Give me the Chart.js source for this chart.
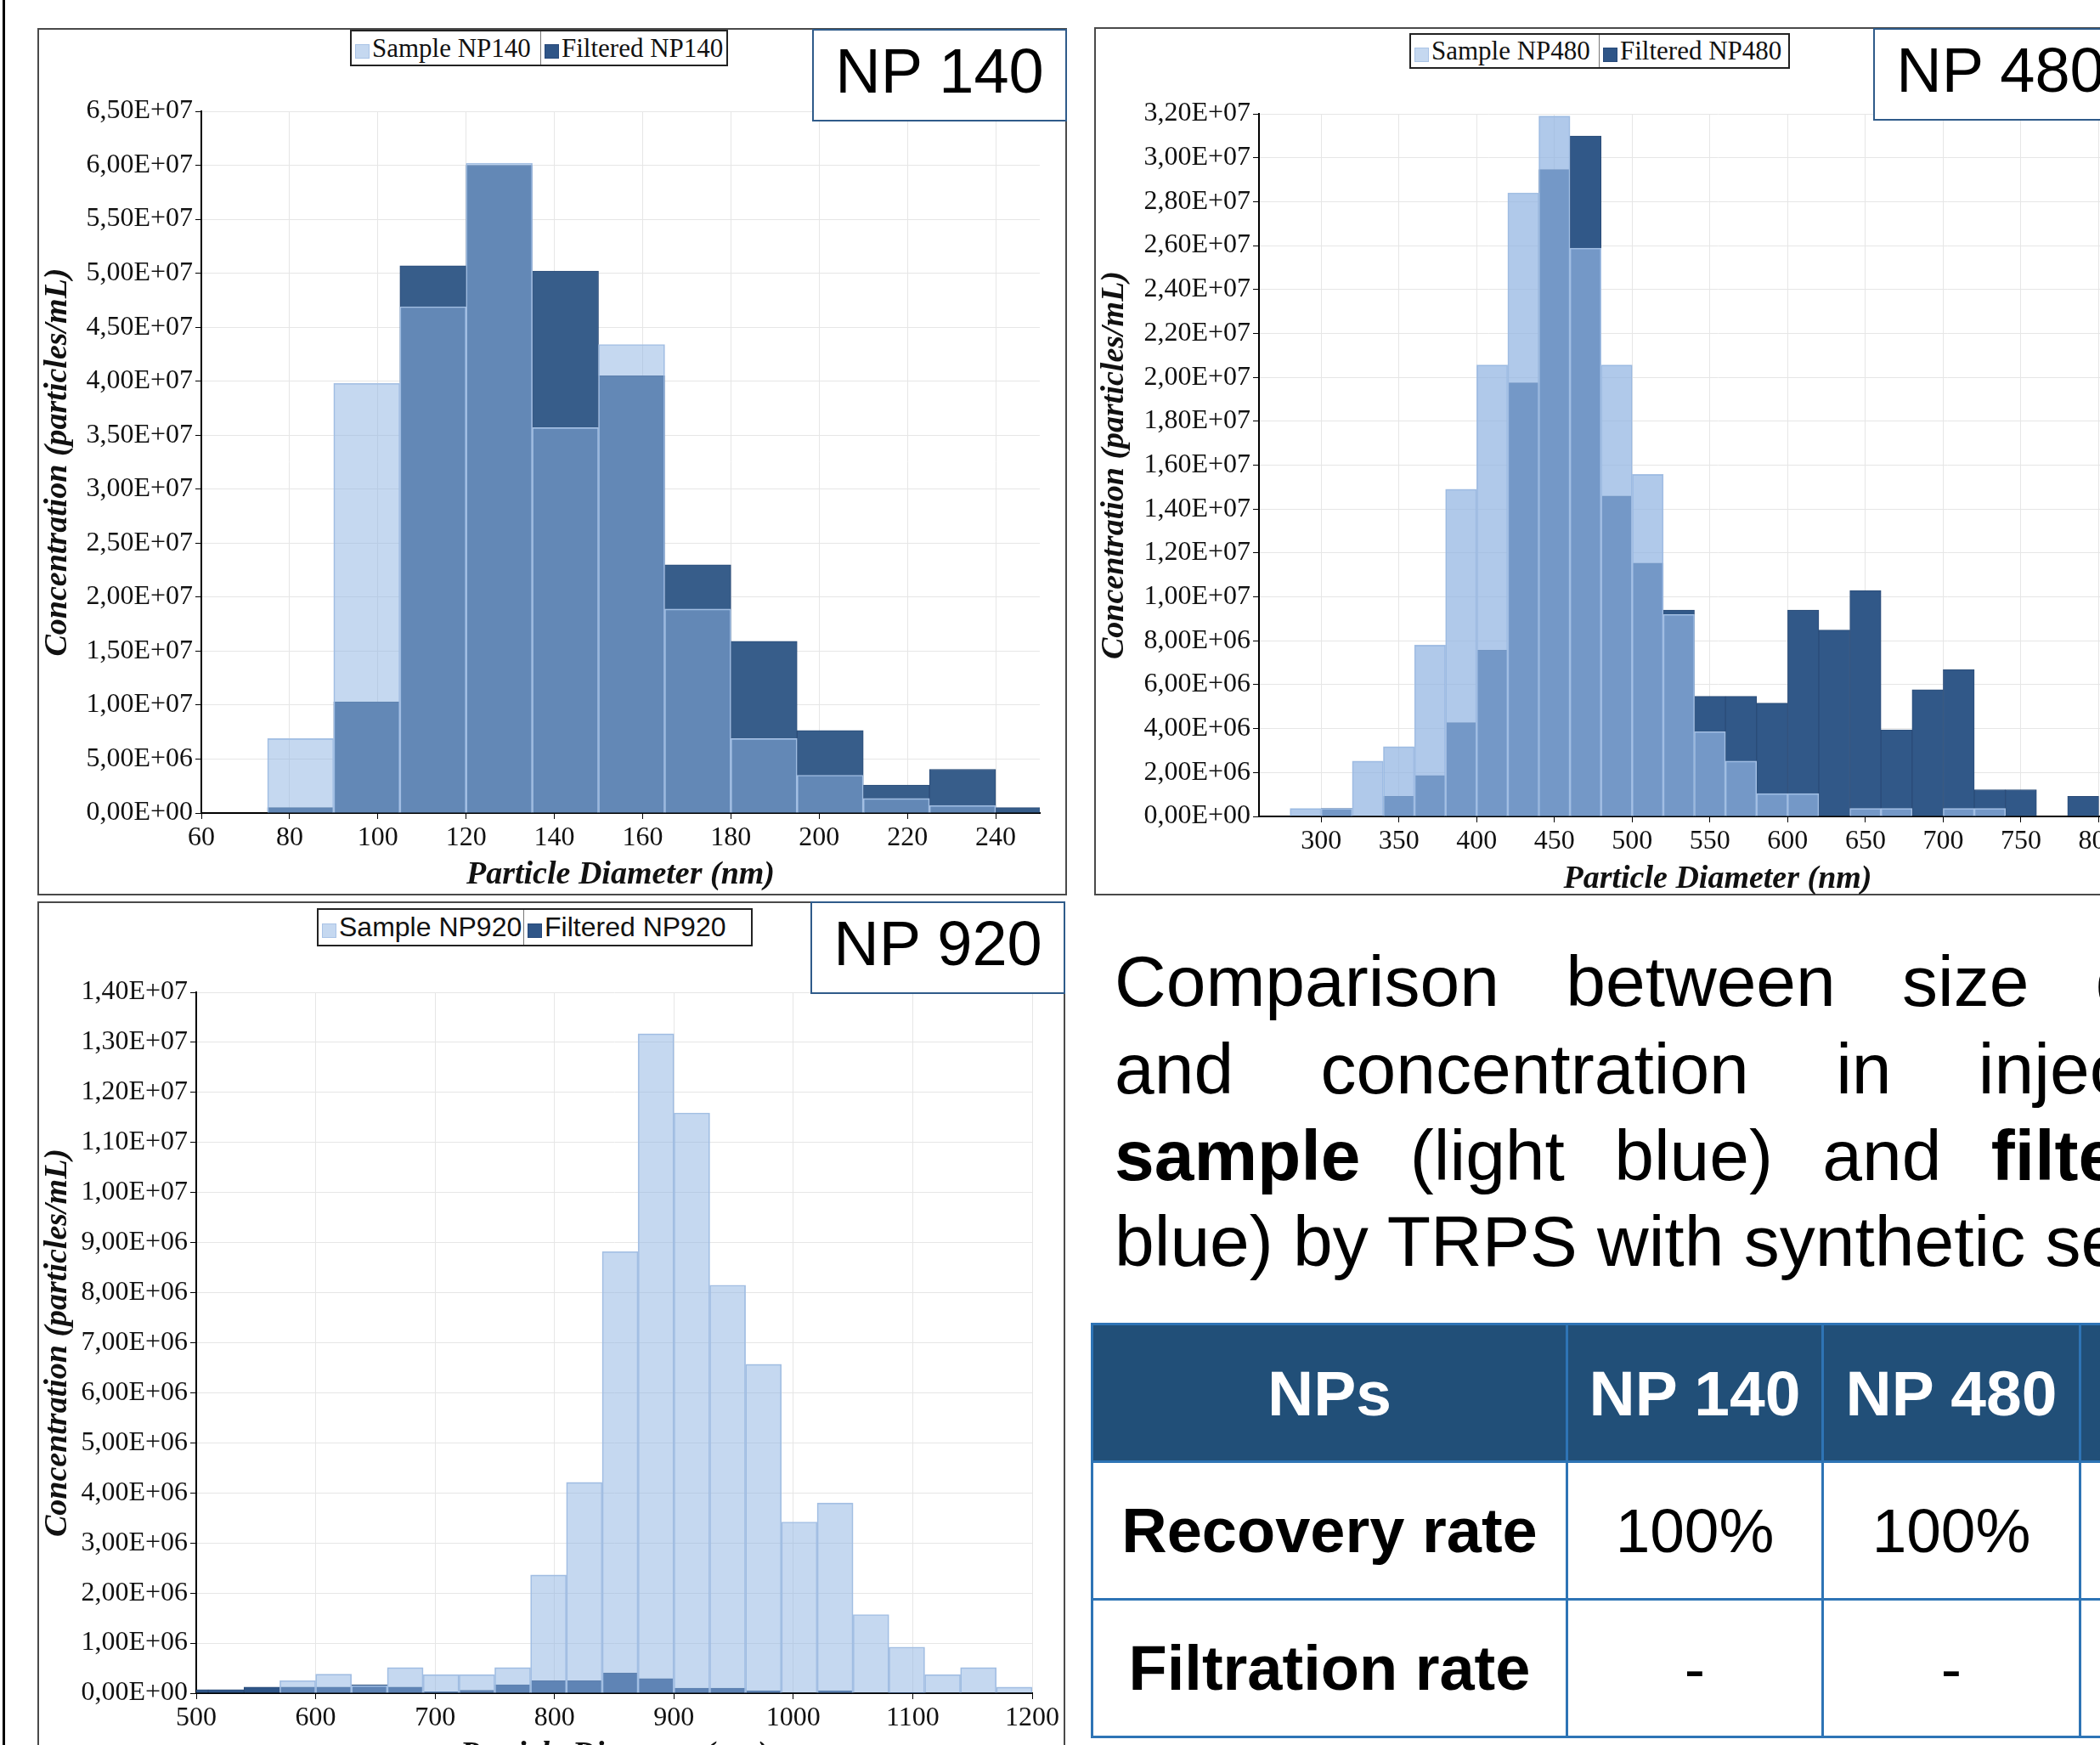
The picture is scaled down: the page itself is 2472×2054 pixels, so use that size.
<!DOCTYPE html>
<html>
<head>
<meta charset="utf-8">
<script src="https://cdn.jsdelivr.net/npm/chart.js@4.4.1/dist/chart.umd.min.js"></script>
<style>
html, body { margin: 0; padding: 0; width: 2472px; height: 2054px; overflow: hidden; background: #fff; }
.abs { position: absolute; }
.box { position: absolute; border: 2px solid #4a4a4a; box-sizing: border-box; }
canvas { position: absolute; }
.legend { position: absolute; border: 2px solid #222; box-sizing: border-box; display: flex; background: #fff; color: #111; font-size: 31px; }
.legend .item { display: flex; align-items: center; box-sizing: border-box; padding-left: 4px; white-space: nowrap; height: 100%; }
.legend .sep { border-left: 1px solid #777; }
.serif { font-family: "Liberation Serif", "Times New Roman", serif; }
.sans { font-family: "Liberation Sans", Arial, sans-serif; }
.mk { display: inline-block; width: 17px; height: 17px; margin-right: 3px; margin-top: 8px; box-sizing: border-box; }
.mk.light { background: #c5d8f0; border: 1px solid #a9c3e6; }
.mk.dark { background: #2f5587; border: 1px solid #27497a; }
.np { position: absolute; width: 300px; height: 109px; box-sizing: border-box; border: 2px solid #2f5b8a; background: #fff;
      font-family: "Liberation Sans", Arial, sans-serif; font-size: 74px; line-height: 74px; text-align: center; color: #000; }
.np span { position: absolute; left: 0; right: 0; top: 11px; }
.line { position: absolute; left: 1312px; font-family: "Liberation Sans", Arial, sans-serif; font-size: 84px; line-height: 84px; white-space: nowrap; color: #000; }
table { position: absolute; left: 1284px; top: 1557px; border-collapse: collapse; table-layout: fixed; width: 1466px;
        font-family: "Liberation Sans", Arial, sans-serif; }
td, th { border: 3px solid #2e74b5; text-align: center; vertical-align: middle; padding: 0; white-space: nowrap; }
th { background: #214f78; color: #fff; font-size: 75px; font-weight: bold; }
td { font-size: 73px; color: #000; }
td.b { font-weight: bold; font-size: 74px; }
</style>
</head>
<body>
<div class="abs" style="left:3px;top:0;width:3px;height:2054px;background:#000"></div>

<!-- NP 140 -->
<div class="box" style="left:44px;top:33px;width:1212px;height:1021px"></div>
<canvas id="c140" width="1210" height="1019" style="left:45px;top:34px"></canvas>
<div class="legend serif" style="left:412px;top:35px;width:445px;height:43px">
  <div class="item" style="width:223px"><span class="mk light"></span>Sample NP140</div>
  <div class="item sep" style="width:220px"><span class="mk dark"></span>Filtered NP140</div>
</div>
<div class="np" style="left:956px;top:34px"><span>NP 140</span></div>

<!-- NP 480 -->
<div class="box" style="left:1288px;top:32px;width:1320px;height:1022px"></div>
<canvas id="c480" width="1304" height="1020" style="left:1289px;top:33px"></canvas>
<div class="legend serif" style="left:1659px;top:39px;width:448px;height:42px">
  <div class="item" style="width:222px"><span class="mk light"></span>Sample NP480</div>
  <div class="item sep" style="width:224px"><span class="mk dark"></span>Filtered NP480</div>
</div>
<div class="np" style="left:2205px;top:33px"><span>NP 480</span></div>

<!-- NP 920 -->
<div class="box" style="left:44px;top:1061px;width:1210px;height:1100px"></div>
<canvas id="c920" width="1208" height="1027" style="left:45px;top:1062px"></canvas>
<div class="legend sans" style="left:373px;top:1069px;width:513px;height:45px;font-size:32px">
  <div class="item" style="width:242px"><span class="mk light"></span>Sample NP920</div>
  <div class="item sep" style="width:269px"><span class="mk dark"></span>Filtered NP920</div>
</div>
<div class="np" style="left:954px;top:1061px"><span>NP 920</span></div>

<!-- text -->
<div class="line" style="top:1113px;word-spacing:55px">Comparison between size distribution</div>
<div class="line" style="top:1216px;word-spacing:79px">and concentration in injected</div>
<div class="line" style="top:1318px;word-spacing:35px"><b>sample</b> (light blue) and <b>filtered</b> (dark</div>
<div class="line" style="top:1419px">blue) by TRPS with synthetic serum.</div>

<table>
  <colgroup><col style="width:559px"><col style="width:301px"><col style="width:303px"><col style="width:303px"></colgroup>
  <tr style="height:162px"><th>NPs</th><th>NP 140</th><th>NP 480</th><th>NP 920</th></tr>
  <tr style="height:162px"><td class="b">Recovery rate</td><td>100%</td><td>100%</td><td></td></tr>
  <tr style="height:162px"><td class="b">Filtration rate</td><td>-</td><td>-</td><td></td></tr>
</table>

<script>
// NP 140 - borde inferior de cada intervalo (nm), intervalos de 15 nm
var bins140 = [75, 90, 105, 120, 135, 150, 165, 180, 195, 210, 225, 240];
var sample140 = [6.9e6, 3.98e7, 4.69e7, 6.02e7, 3.57e7, 4.34e7, 1.89e7, 6.9e6, 3.5e6, 1.35e6, 0.7e6, 0];
var filtered140 = [0.5e6, 1.03e7, 5.07e7, 6.0e7, 5.02e7, 4.05e7, 2.3e7, 1.59e7, 7.65e6, 2.6e6, 4.05e6, 0.5e6];

// NP 480 - intervalos de 20 nm
var bins480 = [280, 300, 320, 340, 360, 380, 400, 420, 440, 460, 480, 500, 520,
               540, 560, 580, 600, 620, 640, 660, 680, 700, 720, 740, 760, 780];
var sample480 = [0.36e6, 0.36e6, 2.52e6, 3.18e6, 7.8e6, 1.49e7, 2.056e7, 2.84e7, 3.19e7, 2.588e7, 2.056e7, 1.558e7, 9.2e6,
                 3.86e6, 2.52e6, 1.04e6, 1.04e6, 0, 0.36e6, 0.36e6, 0, 0.36e6, 0.36e6, 0, 0, 0];
var filtered480 = [0, 0.36e6, 0, 0.92e6, 1.86e6, 4.27e6, 7.57e6, 1.975e7, 2.946e7, 3.099e7, 1.459e7, 1.154e7, 9.4e6,
                   5.47e6, 5.47e6, 5.16e6, 9.4e6, 8.49e6, 1.029e7, 3.94e6, 5.77e6, 6.69e6, 1.22e6, 1.22e6, 0, 0.92e6];

// NP 920 - intervalos de 30 nm
var bins920 = [480, 510, 540, 570, 600, 630, 660, 690, 720, 750, 780, 810,
               840, 870, 900, 930, 960, 990, 1020, 1050, 1080, 1110, 1140, 1170];
var sample920 = [0, 0, 0, 0.25e6, 0.38e6, 0.15e6, 0.51e6, 0.37e6, 0.37e6, 0.51e6, 2.36e6, 4.21e6,
                 8.82e6, 1.317e7, 1.159e7, 8.15e6, 6.57e6, 3.42e6, 3.8e6, 1.57e6, 0.92e6, 0.37e6, 0.51e6, 0.12e6];
var filtered920 = [0.07e6, 0.07e6, 0.12e6, 0.12e6, 0.12e6, 0.17e6, 0.12e6, 0.03e6, 0.06e6, 0.17e6, 0.25e6, 0.25e6,
                   0.4e6, 0.29e6, 0.1e6, 0.1e6, 0.05e6, 0, 0.05e6, 0, 0.01e6, 0, 0, 0];

var serif = 'Liberation Serif';

// formato 6,50E+07
function sci(v) {
    if (v === 0) return '0,00E+00';
    var e = Math.floor(Math.log10(v) + 1e-9);
    var m = v / Math.pow(10, e);
    return m.toFixed(2).replace('.', ',') + 'E+' + (e < 10 ? '0' + e : e);
}

function histograma(id, bins, ancho, sample, filtered, cfg) {
    var s = [], f = [];
    for (var i = 0; i < bins.length; i++) {
        s.push({ x: bins[i] + ancho / 2, y: sample[i] });
        f.push({ x: bins[i] + ancho / 2, y: filtered[i] });
    }
    var grid = { color: '#e6e6e6', tickColor: '#000', tickLength: 7, lineWidth: 1 };
    return new Chart(document.getElementById(id), {
        type: 'bar',
        data: {
            datasets: [{
                label: cfg.sampleLabel,
                data: s,
                backgroundColor: cfg.light,
                borderColor: '#a7c1e3',
                borderWidth: 1,
                clip: 0
            }, {
                label: cfg.filteredLabel,
                data: f,
                backgroundColor: cfg.dark,
                borderColor: '#2b4c78',
                borderWidth: 1,
                clip: 0
            }]
        },
        options: {
            responsive: false,
            animation: false,
            devicePixelRatio: 1,
            layout: { padding: { left: 0, top: cfg.top, right: cfg.right, bottom: 0 } },
            datasets: { bar: { barPercentage: 1, categoryPercentage: 1, grouped: false } },
            plugins: { legend: { display: false }, tooltip: { enabled: false } },
            scales: {
                x: {
                    type: 'linear',
                    min: cfg.xmin,
                    max: cfg.xmax,
                    offset: false,
                    grid: Object.assign({ offset: false }, grid),
                    border: { color: '#000', width: 2 },
                    ticks: {
                        stepSize: cfg.xstep,
                        includeBounds: false,
                        autoSkip: false,
                        maxRotation: 0,
                        padding: 3,
                        color: '#111',
                        font: { family: serif, size: 32 },
                        callback: function (v) { return String(v); }
                    },
                    title: {
                        display: true,
                        text: 'Particle Diameter (nm)',
                        color: '#111',
                        padding: { top: 0, bottom: cfg.tb },
                        font: { family: serif, size: 38, weight: 'bold', style: 'italic' }
                    },
                    afterFit: function (sc) { sc.height = cfg.xh; }
                },
                y: {
                    min: 0,
                    max: cfg.ymax,
                    grid: grid,
                    border: { color: '#000', width: 2 },
                    ticks: {
                        stepSize: cfg.ystep,
                        autoSkip: false,
                        padding: 3,
                        color: '#111',
                        font: { family: serif, size: 32 },
                        callback: function (v) { return sci(v); }
                    },
                    title: {
                        display: true,
                        text: 'Concentration (particles/mL)',
                        color: '#111',
                        padding: 0,
                        font: { family: serif, size: 38, weight: 'bold', style: 'italic' }
                    },
                    afterFit: function (sc) { sc.width = cfg.yw; }
                }
            }
        }
    });
}

histograma('c140', bins140, 15, sample140, filtered140, {
    sampleLabel: 'Sample NP140', filteredLabel: 'Filtered NP140',
    light: 'rgba(142,179,226,0.51)', dark: '#375d8a',
    xmin: 60, xmax: 250, xstep: 20, ymax: 6.5e7, ystep: 5e6,
    top: 97, right: 31, yw: 192, xh: 96, tb: 0
});

histograma('c480', bins480, 20, sample480, filtered480, {
    sampleLabel: 'Sample NP480', filteredLabel: 'Filtered NP480',
    light: 'rgba(144,179,225,0.71)', dark: '#315888',
    xmin: 260, xmax: 850, xstep: 50, ymax: 3.2e7, ystep: 2e6,
    top: 101, right: 31, yw: 193, xh: 92, tb: -5
});

histograma('c920', bins920, 30, sample920, filtered920, {
    sampleLabel: 'Sample NP920', filteredLabel: 'Filtered NP920',
    light: 'rgba(142,179,226,0.51)', dark: '#2f5587',
    xmin: 500, xmax: 1200, xstep: 100, ymax: 1.4e7, ystep: 1e6,
    top: 106, right: 38, yw: 186, xh: 96, tb: 0
});
</script>
</body>
</html>
